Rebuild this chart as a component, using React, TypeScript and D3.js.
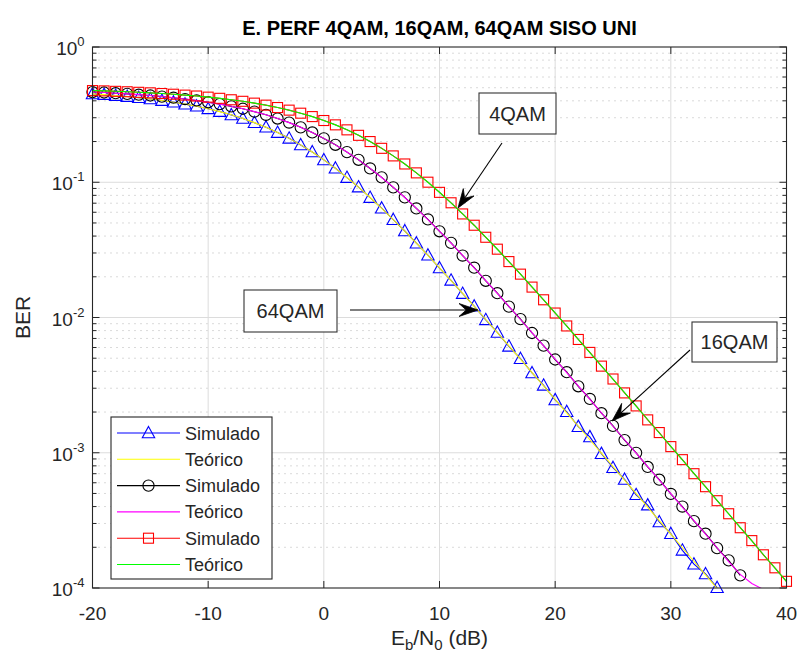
import React from "react";
import * as d3 from "d3";

// ---------------- DATA ----------------
const EBN0 = [
  -20, -19, -18, -17, -16, -15, -14, -13, -12, -11, -10, -9, -8, -7, -6, -5, -4, -3, -2, -1,
  0, 1, 2, 3, 4, 5, 6, 7, 8, 9, 10, 11, 12, 13, 14, 15, 16, 17, 18, 19,
  20, 21, 22, 23, 24, 25, 26, 27, 28, 29, 30, 31, 32, 33, 34, 35, 36, 37, 38, 39, 40,
];

// 64QAM simulated (blue triangles), -20..34 dB
const BER_64QAM_SIM = [
  0.4498, 0.4446, 0.4371, 0.4303, 0.4214, 0.4127, 0.4019, 0.3911, 0.3779, 0.3646,
  0.349, 0.3331, 0.3148, 0.2963, 0.2757, 0.2551, 0.233, 0.2113, 0.1888, 0.1675,
  0.1463, 0.1269, 0.1083, 0.0921, 0.077, 0.0643, 0.0529, 0.0436, 0.0354, 0.0289,
  0.02322, 0.01882, 0.01503, 0.01213, 0.00962, 0.00776, 0.00612, 0.00496, 0.00389, 0.00315,
  0.00246, 0.00201, 0.00156, 0.00131, 0.000985, 0.000775, 0.000635, 0.000489, 0.00041, 0.000308,
  0.000252, 0.00019, 0.00015, 0.000127, 0.0001005,
];
// 64QAM theoretical (yellow line), -20..40 dB
const BER_64QAM_TEO = [
  0.45025, 0.44425, 0.43755, 0.43007, 0.42173, 0.41246, 0.40217, 0.39077, 0.37819, 0.36436,
  0.34925, 0.33281, 0.31506, 0.29608, 0.27597, 0.25492, 0.23319, 0.2111, 0.18902, 0.16732,
  0.14645, 0.12674, 0.10849, 0.09192, 0.07714, 0.06418, 0.053, 0.04348, 0.03546, 0.02879,
  0.02327, 0.018748, 0.015065, 0.012077, 0.009665, 0.007723, 0.006164, 0.004915, 0.003916, 0.003118,
  0.002481, 0.001974, 0.00157, 0.001248, 0.0009923, 0.0007887, 0.0006268, 0.0004981, 0.0003958, 0.0003144,
  0.0002498, 0.0001984, 0.0001577, 0.0001252, 0.0000995, 0.000079, 0.0000628, 0.0000499, 0.0000396, 0.0000315,
  0.000025,
];
// 16QAM simulated (black circles), -20..36 dB
const BER_16QAM_SIM = [
  0.4644, 0.4607, 0.4553, 0.4505, 0.4439, 0.4378, 0.4298, 0.4219, 0.4122, 0.4024,
  0.3905, 0.3784, 0.3641, 0.3495, 0.3326, 0.3152, 0.2958, 0.2762, 0.2547, 0.2334,
  0.2109, 0.1892, 0.1671, 0.1466, 0.1265, 0.1087, 0.0917, 0.0773, 0.064, 0.0531,
  0.0434, 0.0356, 0.0287, 0.02335, 0.01868, 0.01512, 0.01203, 0.00972, 0.00768, 0.0062,
  0.00489, 0.00394, 0.0031, 0.0025, 0.00196, 0.00158, 0.00124, 0.000998, 0.000785, 0.000632,
  0.000496, 0.0004, 0.000312, 0.000252, 0.000197, 0.00016, 0.000124,
];
// 16QAM theoretical (magenta line), -20..38 dB
const BER_16QAM_TEO = [
  0.46469, 0.46041, 0.45561, 0.45025, 0.44425, 0.43755, 0.43007, 0.42173, 0.41246, 0.40217,
  0.39077, 0.37819, 0.36436, 0.34925, 0.33281, 0.31506, 0.29608, 0.27597, 0.25492, 0.23319,
  0.2111, 0.18902, 0.16732, 0.14645, 0.12674, 0.10849, 0.09192, 0.07714, 0.06418, 0.053,
  0.04348, 0.03546, 0.02879, 0.02327, 0.018748, 0.015065, 0.012077, 0.009665, 0.007723, 0.006164,
  0.004915, 0.003916, 0.003118, 0.002481, 0.001974, 0.00157, 0.001248, 0.0009923, 0.0007887, 0.0006268,
  0.0004981, 0.0003958, 0.0003144, 0.0002498, 0.0001984, 0.0001565, 0.000126, 0.000108, 0.0000975,
];
// 4QAM simulated (red squares), -20..40 dB
const BER_4QAM_SIM = [
  0.4761, 0.4737, 0.4701, 0.4668, 0.4624, 0.4582, 0.4529, 0.4475, 0.4408, 0.4341,
  0.4258, 0.4174, 0.4073, 0.3967, 0.3845, 0.3716, 0.3568, 0.3413, 0.324, 0.3058,
  0.286, 0.2657, 0.244, 0.2223, 0.1999, 0.1782, 0.1566, 0.1365, 0.1173, 0.1001,
  0.0842, 0.0705, 0.0583, 0.0481, 0.0392, 0.032, 0.0259, 0.02092, 0.01678, 0.01352,
  0.01079, 0.00866, 0.00688, 0.00552, 0.00437, 0.00351, 0.00277, 0.00222, 0.00175, 0.00141,
  0.00111, 0.000889, 0.0007, 0.000561, 0.000442, 0.000354, 0.000279, 0.000224, 0.000176, 0.000141,
  0.000112,
];
// 4QAM theoretical (green line), -20..40 dB
const BER_4QAM_TEO = [
  0.47637, 0.47349, 0.47027, 0.46666, 0.46261, 0.45808, 0.45301, 0.44733, 0.44099, 0.43391,
  0.42601, 0.41722, 0.40745, 0.39661, 0.38463, 0.37144, 0.35697, 0.34119, 0.3241, 0.30572,
  0.28615, 0.26555, 0.24412, 0.22216, 0.20003, 0.17809, 0.15677, 0.13642, 0.11741, 0.09998,
  0.0843, 0.07043, 0.05837, 0.04804, 0.03929, 0.03196, 0.02589, 0.020894, 0.016811, 0.013492,
  0.010806, 0.008641, 0.0069, 0.005504, 0.004387, 0.003494, 0.002782, 0.002213, 0.001761, 0.0014,
  0.001113, 0.0008847, 0.0007031, 0.0005587, 0.000444, 0.0003527, 0.0002802, 0.000223, 0.0001769, 0.0001405,
  0.0001116,
];

const X_TICKS = [-20, -10, 0, 10, 20, 30, 40];
const Y_DECADES = [1e-4, 1e-3, 1e-2, 1e-1, 1];
const Y_EXPONENTS = ["-4", "-3", "-2", "-1", "0"];
const LEGEND_LABELS = ["Simulado", "Teórico", "Simulado", "Teórico", "Simulado", "Teórico"];
const TITLE = "E. PERF 4QAM, 16QAM, 64QAM SISO UNI";
const ANNOTATIONS = ["4QAM", "64QAM", "16QAM"];

// ---------------- LAYOUT ----------------
const W = 801;
const H = 662;
const L = 92.5;
const R = 786.5;
const T = 47;
const B = 588;
const FONT = "'Liberation Sans', Arial, Helvetica, sans-serif";
const AX = "#262626";

type Marker = "tri" | "circ" | "sq";

function MarkerShape({ kind, cx, cy, color }: { kind: Marker; cx: number; cy: number; color: string }) {
  if (kind === "tri") {
    const p = `${cx},${cy - 6.5} ${cx + 6.2},${cy + 4.8} ${cx - 6.2},${cy + 4.8}`;
    return <polygon points={p} fill="none" stroke={color} strokeWidth={1.1} />;
  }
  if (kind === "circ") {
    return <circle cx={cx} cy={cy} r={5.6} fill="none" stroke={color} strokeWidth={1.1} />;
  }
  return <rect x={cx - 5} y={cy - 5} width={10} height={10} fill="none" stroke={color} strokeWidth={1.1} />;
}

function Arrow({ x1, y1, x2, y2 }: { x1: number; y1: number; x2: number; y2: number }) {
  const dx = x2 - x1;
  const dy = y2 - y1;
  const len = Math.hypot(dx, dy);
  const ux = dx / len;
  const uy = dy / len;
  const nx = -uy;
  const ny = ux;
  const HL = 19;
  const HW = 13;
  const bx = x2 - ux * HL;
  const by = y2 - uy * HL;
  const kx = x2 - ux * HL * 0.62;
  const ky = y2 - uy * HL * 0.62;
  const pts = `${x2},${y2} ${bx + (nx * HW) / 2},${by + (ny * HW) / 2} ${kx},${ky} ${bx - (nx * HW) / 2},${by - (ny * HW) / 2}`;
  return (
    <g>
      <line x1={x1} y1={y1} x2={kx} y2={ky} stroke="#000" strokeWidth={1.1} />
      <polygon points={pts} fill="#000" stroke="#000" strokeWidth={0.8} />
    </g>
  );
}

export default function App() {
  const x = d3.scaleLinear().domain([-20, 40]).range([L, R]);
  const y = d3.scaleLog().domain([1e-4, 1]).range([B, T]);

  const series: { xs: number[]; ys: number[]; color: string; marker?: Marker }[] = [
    { xs: EBN0.slice(0, BER_64QAM_SIM.length), ys: BER_64QAM_SIM, color: "#0000ff", marker: "tri" },
    { xs: EBN0.slice(0, BER_64QAM_TEO.length), ys: BER_64QAM_TEO, color: "#ffff00" },
    { xs: EBN0.slice(0, BER_16QAM_SIM.length), ys: BER_16QAM_SIM, color: "#000000", marker: "circ" },
    { xs: EBN0.slice(0, BER_16QAM_TEO.length), ys: BER_16QAM_TEO, color: "#ff00ff" },
    { xs: EBN0.slice(0, BER_4QAM_SIM.length), ys: BER_4QAM_SIM, color: "#ff0000", marker: "sq" },
    { xs: EBN0.slice(0, BER_4QAM_TEO.length), ys: BER_4QAM_TEO, color: "#00ff00" },
  ];

  const lineGen = d3
    .line<[number, number]>()
    .x((d) => x(d[0]))
    .y((d) => y(d[1]));

  const minorVals: number[] = [];
  Y_DECADES.slice(0, -1).forEach((d) => {
    for (let m = 2; m <= 9; m++) minorVals.push(d * m);
  });

  const legX = 111;
  const legY = 417;
  const legW = 161;
  const legH = 162;
  const rowH = 26.3;

  return (
    <svg
      width={W}
      height={H}
      viewBox={`0 0 ${W} ${H}`}
      style={{ position: "absolute", left: 0, top: 0, background: "#fff" }}
      fontFamily={FONT}
    >
      <defs>
        <clipPath id="plotclip">
          <rect x={L} y={T} width={R - L} height={B - T} />
        </clipPath>
      </defs>
      <rect x={0} y={0} width={W} height={H} fill="#fff" />

      {/* minor grid */}
      {minorVals.map((v, i) => (
        <line key={"mg" + i} x1={L} x2={R} y1={y(v)} y2={y(v)} stroke="#b4b4b4" strokeWidth={1} strokeDasharray="1 5" />
      ))}
      {/* major grid */}
      {Y_DECADES.slice(1, -1).map((v, i) => (
        <line key={"gy" + i} x1={L} x2={R} y1={y(v)} y2={y(v)} stroke="#dcdcdc" strokeWidth={1} />
      ))}
      {X_TICKS.slice(1, -1).map((v, i) => (
        <line key={"gx" + i} x1={x(v)} x2={x(v)} y1={T} y2={B} stroke="#dcdcdc" strokeWidth={1} />
      ))}

      {/* curves */}
      {series.map((s, i) => {
        const pts = s.xs.map((xv, j) => [xv, s.ys[j]] as [number, number]);
        return (
          <g key={"s" + i}>
            <path d={lineGen(pts) || ""} fill="none" stroke={s.color} strokeWidth={1.1} clipPath="url(#plotclip)" />
            {s.marker &&
              pts
                .filter((p) => p[1] >= 1e-4 * 0.999)
                .map((p, j) => <MarkerShape key={j} kind={s.marker as Marker} cx={x(p[0])} cy={y(p[1])} color={s.color} />)}
          </g>
        );
      })}

      {/* axes box */}
      <rect x={L} y={T} width={R - L} height={B - T} fill="none" stroke={AX} strokeWidth={1.1} />
      {X_TICKS.map((v, i) => (
        <g key={"xt" + i}>
          <line x1={x(v)} x2={x(v)} y1={B} y2={B - 7} stroke={AX} strokeWidth={1} />
          <line x1={x(v)} x2={x(v)} y1={T} y2={T + 7} stroke={AX} strokeWidth={1} />
          <text x={x(v)} y={B + 32} textAnchor="middle" fontSize={19} fill={AX}>
            {v}
          </text>
        </g>
      ))}
      {Y_DECADES.map((v, i) => (
        <g key={"yt" + i}>
          <line x1={L} x2={L + 7} y1={y(v)} y2={y(v)} stroke={AX} strokeWidth={1} />
          <line x1={R} x2={R - 7} y1={y(v)} y2={y(v)} stroke={AX} strokeWidth={1} />
          <text x={L - 8} y={y(v) + 8} textAnchor="end" fontSize={19} fill={AX}>
            10
            <tspan fontSize={13} dy={-9}>
              {Y_EXPONENTS[i]}
            </tspan>
          </text>
        </g>
      ))}
      {minorVals.map((v, i) => (
        <g key={"ym" + i}>
          <line x1={L} x2={L + 4} y1={y(v)} y2={y(v)} stroke={AX} strokeWidth={1} />
          <line x1={R} x2={R - 4} y1={y(v)} y2={y(v)} stroke={AX} strokeWidth={1} />
        </g>
      ))}

      {/* labels */}
      <text x={(L + R) / 2} y={35} textAnchor="middle" fontSize={20} fontWeight="bold" fill="#000">
        {TITLE}
      </text>
      <text x={(L + R) / 2} y={645} textAnchor="middle" fontSize={21} fill={AX}>
        E
        <tspan fontSize={15} dy={5}>b</tspan>
        <tspan dy={-5}>/N</tspan>
        <tspan fontSize={15} dy={5}>0</tspan>
        <tspan dy={-5}> (dB)</tspan>
      </text>
      <text transform={`translate(30, ${(T + B) / 2}) rotate(-90)`} textAnchor="middle" fontSize={21} fill={AX}>
        BER
      </text>

      {/* legend */}
      <rect x={legX} y={legY} width={legW} height={legH} fill="#fff" stroke={AX} strokeWidth={1.1} />
      {LEGEND_LABELS.map((lab, i) => {
        const s = series[i];
        const cy = legY + 16 + i * rowH;
        return (
          <g key={"lg" + i}>
            <line x1={legX + 6} x2={legX + 69} y1={cy} y2={cy} stroke={s.color} strokeWidth={1.1} />
            {s.marker && <MarkerShape kind={s.marker} cx={legX + 37.5} cy={cy} color={s.color} />}
            <text x={legX + 74} y={cy + 6.5} fontSize={18} fill={AX}>
              {lab}
            </text>
          </g>
        );
      })}

      {/* annotations */}
      <rect x={479} y={93} width={77} height={41} fill="#fff" stroke="#333" strokeWidth={1.1} />
      <text x={517.5} y={120.5} textAnchor="middle" fontSize={20} fill={AX}>
        {ANNOTATIONS[0]}
      </text>
      <Arrow x1={502} y1={143} x2={458} y2={208} />

      <rect x={244} y={290} width={93} height={42} fill="#fff" stroke="#333" strokeWidth={1.1} />
      <text x={290.5} y={318} textAnchor="middle" fontSize={20} fill={AX}>
        {ANNOTATIONS[1]}
      </text>
      <Arrow x1={350} y1={310} x2={478} y2={310} />

      <rect x={692} y={322} width={85} height={40} fill="#fff" stroke="#333" strokeWidth={1.1} />
      <text x={734.5} y={349} textAnchor="middle" fontSize={20} fill={AX}>
        {ANNOTATIONS[2]}
      </text>
      <Arrow x1={690} y1={350} x2={612} y2={421} />
    </svg>
  );
}
